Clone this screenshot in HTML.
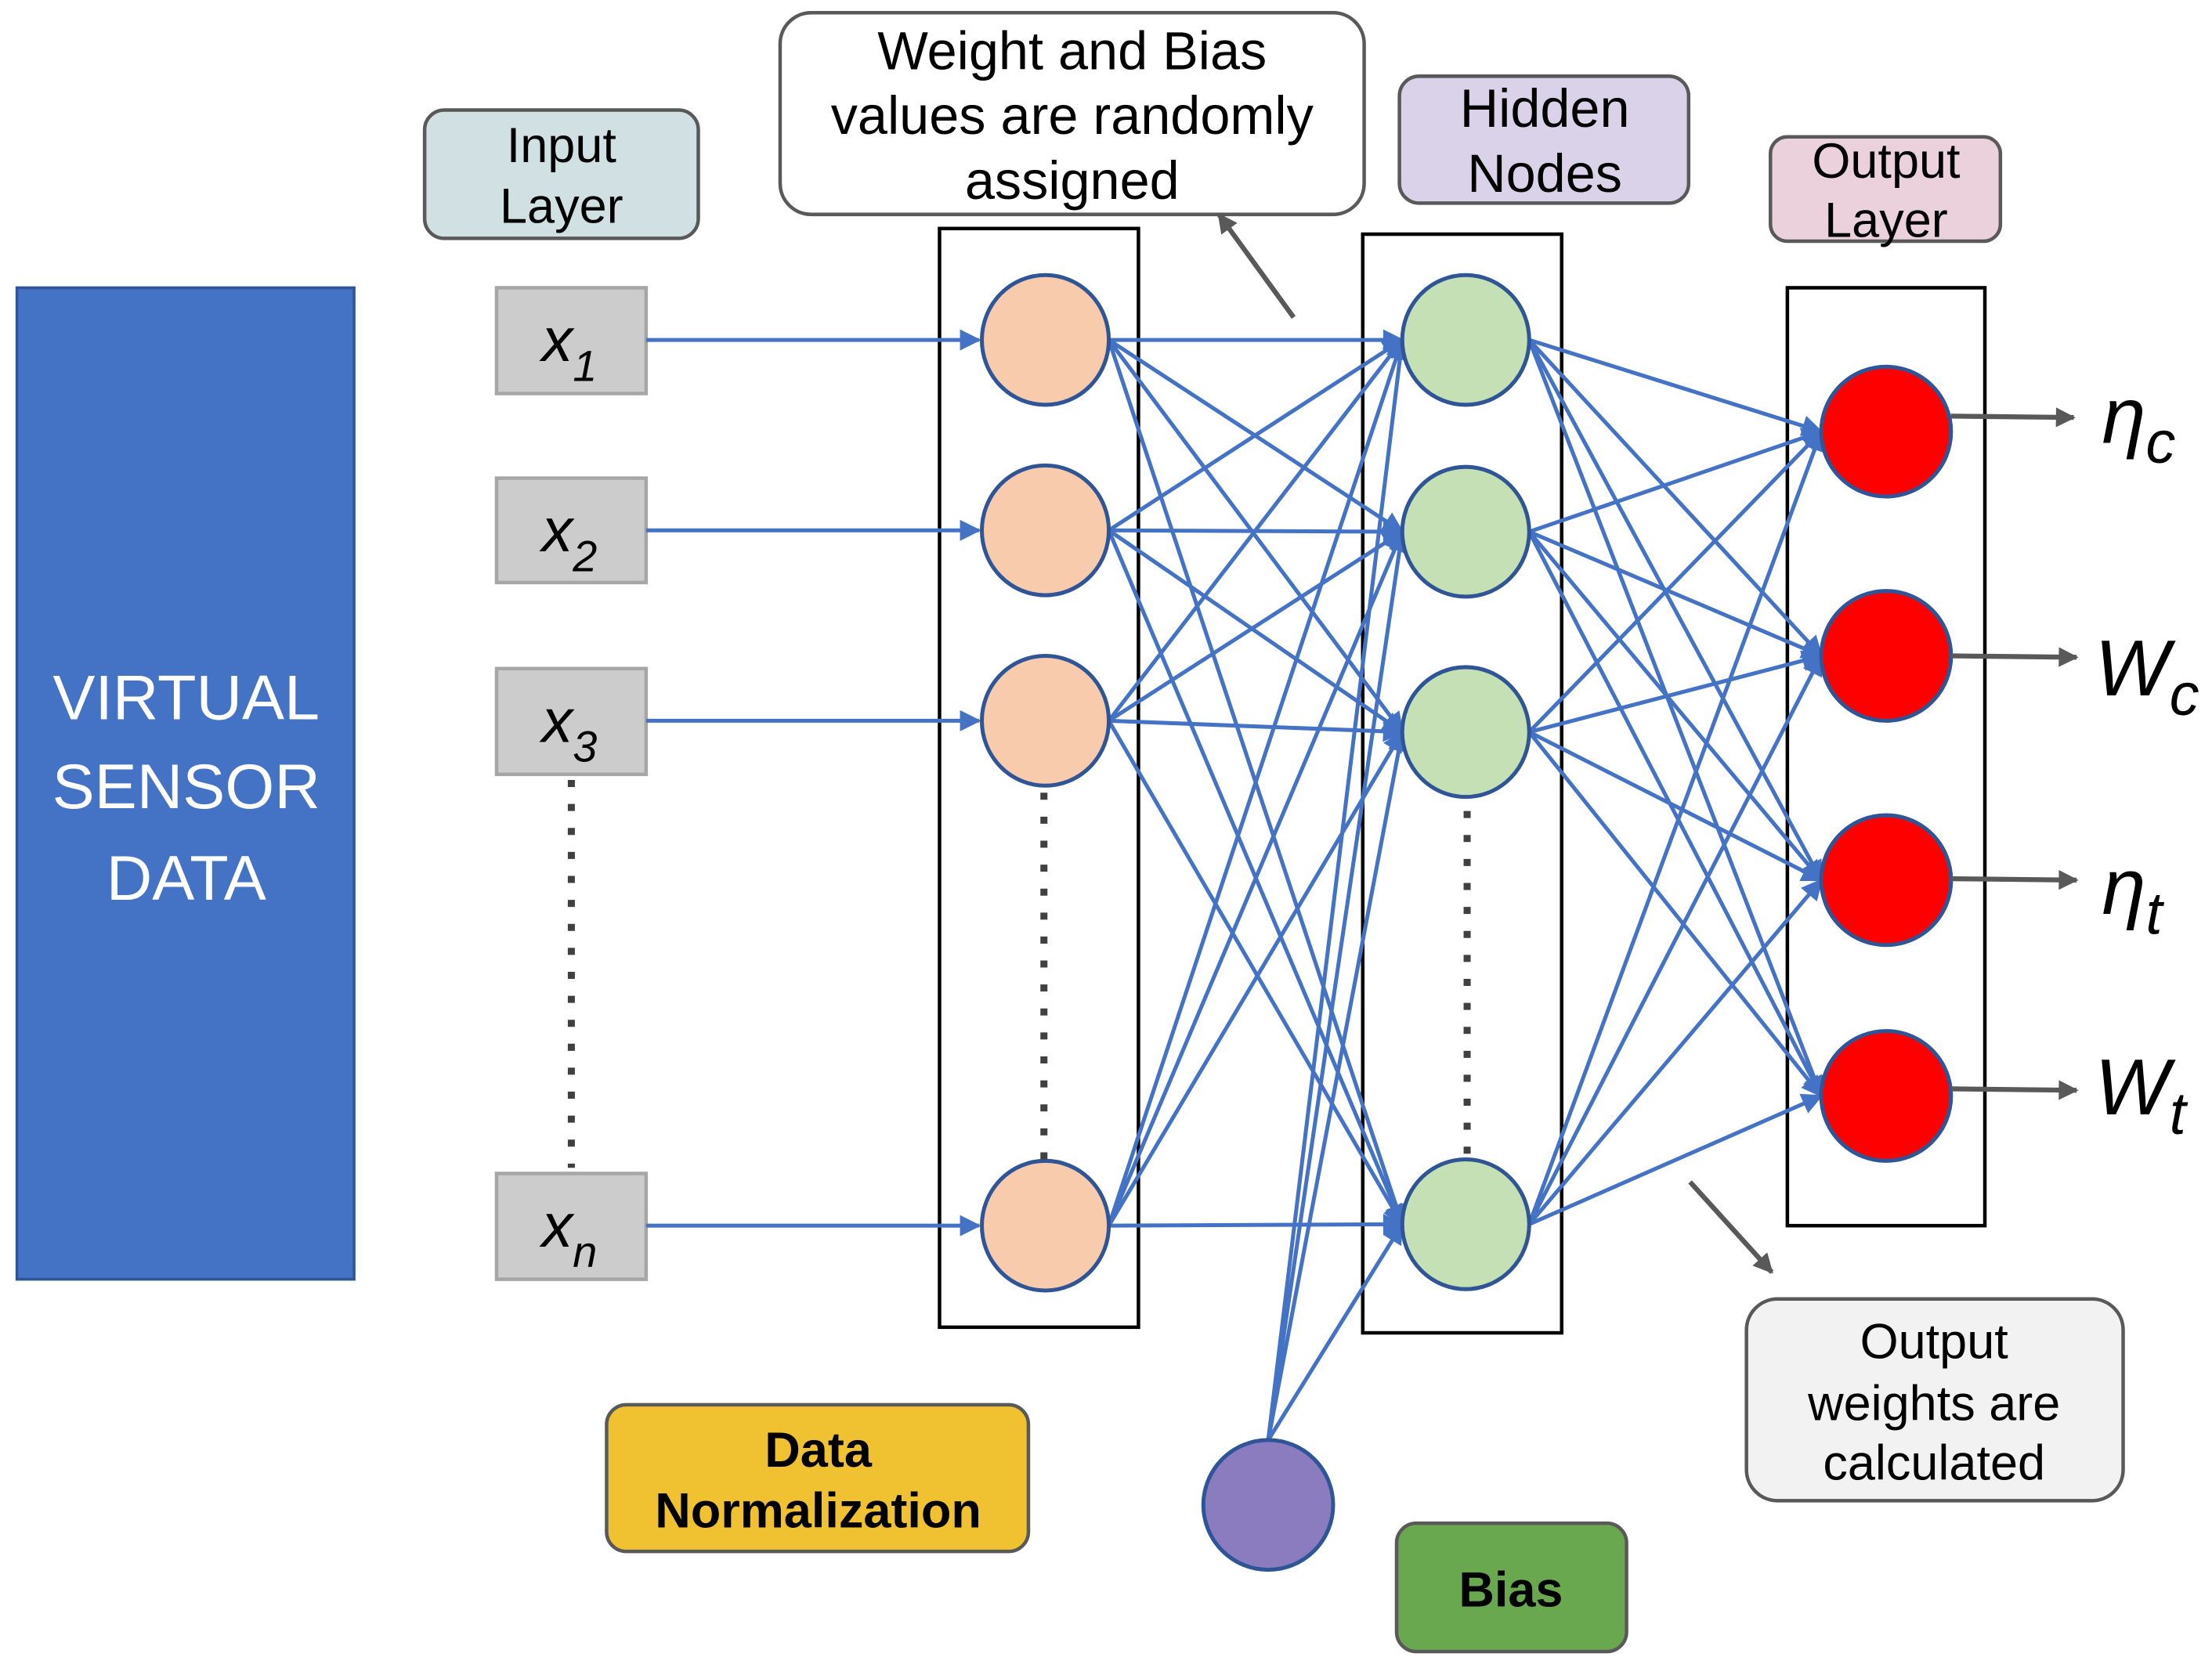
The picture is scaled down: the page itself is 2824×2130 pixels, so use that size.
<!DOCTYPE html>
<html><head><meta charset="utf-8"><style>
html,body{margin:0;padding:0;background:#fff}
svg{display:block}
text{font-family:"Liberation Sans",sans-serif}
</style></head><body>
<svg id="s" width="2824" height="2130" viewBox="0 0 1568 1182.6" xmlns="http://www.w3.org/2000/svg">
<defs>
<marker id="bb" viewBox="0 0 10 10" refX="9" refY="5" markerWidth="18" markerHeight="15" orient="auto" markerUnits="userSpaceOnUse"><path d="M0,0 L10,5 L0,10 z" fill="#4472C4"/></marker>
<marker id="gg" viewBox="0 0 10 10" refX="9" refY="5" markerWidth="18" markerHeight="14" orient="auto" markerUnits="userSpaceOnUse"><path d="M0,0 L10,5 L0,10 z" fill="#595959"/></marker>
</defs>
<rect x="12" y="204" width="239" height="703" fill="#4472C4" stroke="#2F5597" stroke-width="2"/>
<g fill="#fff" font-size="45" text-anchor="middle"><text x="132" y="510">VIRTUAL</text><text x="132" y="573">SENSOR</text><text x="132" y="638">DATA</text></g>
<rect x="301" y="78" width="194" height="91" rx="14" fill="#D0E0E3" stroke="#595959" stroke-width="2.5"/>
<g font-size="35" text-anchor="middle"><text x="398" y="115">Input</text><text x="398" y="158">Layer</text></g>
<g fill="#CCCCCC" stroke="#A6A6A6" stroke-width="2.5">
<rect x="352" y="204" width="106" height="75"/><rect x="352" y="339" width="106" height="74"/><rect x="352" y="474" width="106" height="75"/><rect x="352" y="832" width="106" height="75"/></g>
<g font-size="44" font-style="italic">
<text x="384" y="256">x<tspan font-size="31" dy="14">1</tspan></text>
<text x="384" y="391">x<tspan font-size="31" dy="14">2</tspan></text>
<text x="384" y="526">x<tspan font-size="31" dy="14">3</tspan></text>
<text x="384" y="884">x<tspan font-size="31" dy="14">n</tspan></text></g>
<line x1="405" y1="553" x2="405" y2="828" stroke="#404040" stroke-width="5" stroke-dasharray="5,12"/>
<g fill="none" stroke="#000" stroke-width="2.5">
<rect x="666" y="162" width="141" height="779"/><rect x="966" y="166" width="141" height="779"/><rect x="1267" y="204" width="140" height="665"/></g>
<g id="lines" stroke="#4472C4" stroke-width="2.8" fill="none"></g>
<g stroke="#2F5597" stroke-width="2.8">
<g fill="#F8CBAD"><ellipse cx="741" cy="241" rx="45" ry="46"/><ellipse cx="741" cy="376" rx="45" ry="46"/><ellipse cx="741" cy="511" rx="45" ry="46"/><ellipse cx="741" cy="869" rx="45" ry="46"/></g>
<g fill="#C5E0B4"><ellipse cx="1039" cy="241" rx="45" ry="46"/><ellipse cx="1039" cy="377" rx="45" ry="46"/><ellipse cx="1039" cy="519" rx="45" ry="46"/><ellipse cx="1039" cy="868" rx="45" ry="46"/></g>
<g fill="#FF0000"><ellipse cx="1337" cy="306" rx="46" ry="46"/><ellipse cx="1337" cy="465" rx="46" ry="46"/><ellipse cx="1337" cy="624" rx="46" ry="46"/><ellipse cx="1337" cy="777" rx="46" ry="46"/></g>
<ellipse cx="899" cy="1067" rx="46" ry="46" fill="#8B7CBF"/></g>
<g stroke="#404040" stroke-width="5" stroke-dasharray="5,12">
<line x1="740" y1="562" x2="740" y2="828"/><line x1="1040" y1="575" x2="1040" y2="822"/></g>
<g stroke="#595959" stroke-width="3.5" marker-end="url(#gg)">
<line x1="1383" y1="295" x2="1470" y2="296"/><line x1="1383" y1="465" x2="1472" y2="466"/><line x1="1383" y1="623" x2="1472" y2="624"/><line x1="1383" y1="772" x2="1472" y2="773"/>
<line x1="917" y1="225" x2="864" y2="152"/><line x1="1198" y1="838" x2="1256" y2="902"/></g>
<g font-size="56" font-style="italic">
<text x="1490" y="314">η<tspan font-size="42" dy="14">c</tspan></text>
<text x="1485" y="493">W<tspan font-size="42" dy="14">c</tspan></text>
<text x="1490" y="648">η<tspan font-size="42" dy="14">t</tspan></text>
<text x="1485" y="790">W<tspan font-size="42" dy="14">t</tspan></text></g>
<rect x="553" y="9" width="414" height="143" rx="22" fill="#fff" stroke="#595959" stroke-width="2.5"/>
<g font-size="38" text-anchor="middle"><text x="760" y="49">Weight and Bias</text><text x="760" y="95">values are randomly</text><text x="760" y="141">assigned</text></g>
<rect x="992" y="54" width="205" height="90" rx="14" fill="#D9D2E9" stroke="#595959" stroke-width="2.5"/>
<g font-size="38" text-anchor="middle"><text x="1095" y="90">Hidden</text><text x="1095" y="136">Nodes</text></g>
<rect x="1255" y="97" width="163" height="74" rx="12" fill="#EAD1DC" stroke="#595959" stroke-width="2.5"/>
<g font-size="35" text-anchor="middle"><text x="1337" y="126">Output</text><text x="1337" y="168">Layer</text></g>
<rect x="1238" y="921" width="267" height="143" rx="22" fill="#F2F2F2" stroke="#595959" stroke-width="2.5"/>
<g font-size="35" text-anchor="middle"><text x="1371" y="963">Output</text><text x="1371" y="1007">weights are</text><text x="1371" y="1049">calculated</text></g>
<rect x="430" y="996" width="299" height="104" rx="14" fill="#F0C232" stroke="#595959" stroke-width="2.5"/>
<g font-size="35" font-weight="bold" text-anchor="middle"><text x="580" y="1040">Data</text><text x="580" y="1083">Normalization</text></g>
<rect x="990" y="1080" width="163" height="91" rx="14" fill="#6AA84F" stroke="#595959" stroke-width="2.5"/>
<text x="1071" y="1139" font-size="35" font-weight="bold" text-anchor="middle">Bias</text>
</svg>
<script>
var g=document.getElementById('lines'),NS='http://www.w3.org/2000/svg';
function L(x1,y1,x2,y2){var l=document.createElementNS(NS,'line');l.setAttribute('x1',x1);l.setAttribute('y1',y1);l.setAttribute('x2',x2);l.setAttribute('y2',y2);l.setAttribute('marker-end','url(#bb)');g.appendChild(l);}
var a=[241,376,511,869],b=[241,377,519,868],c=[306,465,624,777];
for(var i=0;i<4;i++)L(458,a[i],694,a[i]);
for(var i=0;i<4;i++)for(var j=0;j<4;j++)L(786,a[i],994,b[j]);
for(var j=0;j<4;j++)L(899,1021,994,b[j]);
for(var i=0;i<4;i++)for(var j=0;j<4;j++)L(1084,b[i],1291,c[j]);
</script>
</body></html>
